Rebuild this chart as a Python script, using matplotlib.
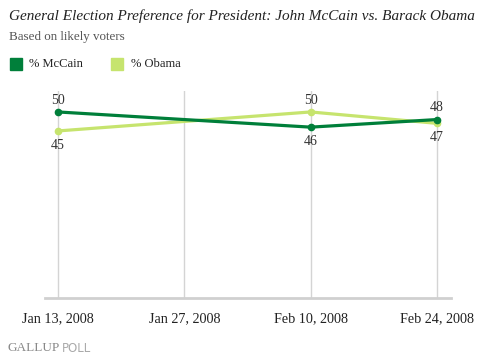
import datetime as dt
import matplotlib
matplotlib.use("Agg")
from matplotlib import pyplot as plt
import matplotlib.dates as mdates
from matplotlib.patches import Rectangle

# Data
tick_dates = [dt.date(2008, 1, 13), dt.date(2008, 1, 27), dt.date(2008, 2, 10), dt.date(2008, 2, 24)]
tick_labels = ["Jan 13, 2008", "Jan 27, 2008", "Feb 10, 2008", "Feb 24, 2008"]
poll_dates = [dt.date(2008, 1, 13), dt.date(2008, 2, 10), dt.date(2008, 2, 24)]
mccain = [50, 46, 48]
obama = [45, 50, 47]

dark = "#007f3a"
light = "#c6e46e"
serif = "Liberation Serif"

fig = plt.figure(figsize=(4.95, 3.58), dpi=100)
ax = fig.add_axes([0.0909, 0.1676, 0.820, 0.578])

for d in tick_dates:
    ax.axvline(d, color="#d4d4d4", lw=1, zorder=1)

ax.plot(poll_dates, obama, color=light, lw=2.3, marker="o", ms=4.5, zorder=3)
ax.plot(poll_dates, mccain, color=dark, lw=2.3, marker="o", ms=4.5, zorder=4)

# value labels: higher value above its point, lower below
for d, m, o in zip(poll_dates, mccain, obama):
    for v, other in ((m, o), (o, m)):
        up = v >= other
        ax.annotate(str(v), (d, v), xytext=(0, 8.6 if up else -10.3), textcoords="offset points",
                    ha="center", va="center", fontsize=10, family=serif, color="#333333")

ax.set_xlim(mdates.date2num(dt.date(2008, 1, 13)) - 1.44, mdates.date2num(dt.date(2008, 2, 24)) + 1.55)
ax.set_ylim(1, 55.5)
ax.set_xticks(tick_dates)
ax.set_xticklabels(tick_labels, family=serif, fontsize=10.2, color="#222222")
ax.tick_params(axis="x", length=0, pad=10)
ax.set_yticks([])
for s in ["top", "left", "right"]:
    ax.spines[s].set_visible(False)
ax.spines["bottom"].set_color("#d0d0d0")
ax.spines["bottom"].set_linewidth(2)

# titles
fig.text(0.018, 0.955, "General Election Preference for President: John McCain vs. Barack Obama",
         family=serif, style="italic", fontsize=11, color="#222222", va="center")
fig.text(0.018, 0.897, "Based on likely voters", family=serif, fontsize=9.4, color="#555555", va="center")

# legend
fig.patches.append(Rectangle((10 / 495, 1 - 70 / 358), 12 / 495, 12 / 358, transform=fig.transFigure,
                             color=dark, figure=fig))
fig.text(29 / 495, 1 - 64 / 358, "% McCain", family=serif, fontsize=9, color="#222222", va="center")
fig.patches.append(Rectangle((111 / 495, 1 - 70 / 358), 12 / 495, 12 / 358, transform=fig.transFigure,
                             color=light, figure=fig))
fig.text(131 / 495, 1 - 64 / 358, "% Obama", family=serif, fontsize=9, color="#222222", va="center")

# footer
fig.text(7 / 495, 1 - 348 / 358, "GALLUP", family=serif, fontsize=9.5, color="#888888", va="center")
fig.text(62 / 495, 1 - 348 / 358, "POLL", family="DejaVu Sans", fontsize=8.5, color="#aaaaaa", va="center")

fig.savefig("out.png", dpi=100)
